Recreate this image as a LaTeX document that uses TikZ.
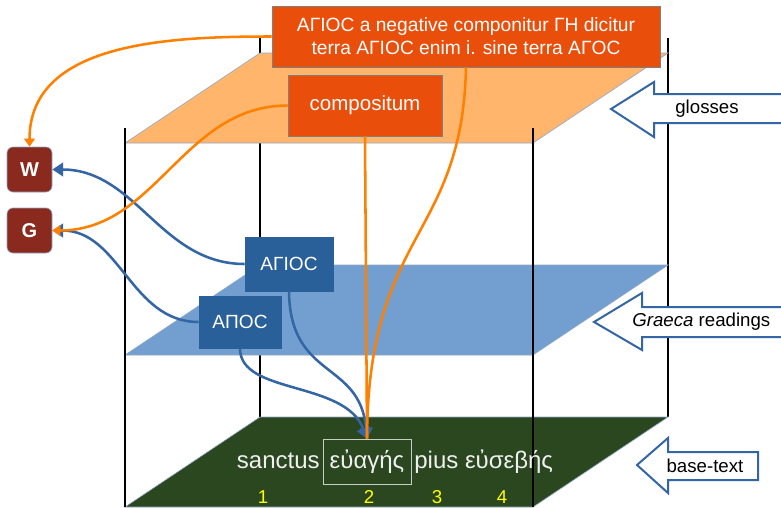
\documentclass[tikz,border=0pt]{standalone}
\usepackage{fontspec}
\setmainfont{Liberation Sans}
\usetikzlibrary{arrows.meta}
\definecolor{planeorange}{HTML}{FFB66C}
\definecolor{planeblue}{HTML}{729FCF}
\definecolor{planegreen}{HTML}{2A4720}
\definecolor{planeedge}{HTML}{8FA8C8}
\definecolor{boxorange}{HTML}{EA4E0B}
\definecolor{boxblue}{HTML}{2A6099}
\definecolor{boxred}{HTML}{8A2A1E}
\definecolor{lineorange}{HTML}{FF8000}
\definecolor{lineblue}{HTML}{3465A4}
\definecolor{numyellow}{HTML}{FFFF00}
\definecolor{basetxt}{HTML}{F0F0F0}
\begin{document}
\begin{tikzpicture}[x=0.75pt,y=-0.75pt,
  oline/.style={draw=lineorange, line width=1.9pt},
  bline/.style={draw=lineblue, line width=1.9pt},
  otip/.style={-{Triangle[length=6pt,width=8pt]}},
  btip/.style={-{Triangle[length=8pt,width=10pt]}},
  pillar/.style={draw=black, line width=1.9pt},
  plane/.style={draw=planeedge, line width=0.5pt},
  boxo/.style={fill=boxorange, draw=gray, line width=0.6pt, text=white, inner sep=0pt, align=center},
  boxb/.style={fill=boxblue, draw=boxblue, line width=0.6pt, text=white, inner sep=0pt, font=\fontsize{14.3}{16}\selectfont},
  boxr/.style={fill=boxred, draw=planeedge, line width=0.5pt, rounded corners=4.5pt, text=white, inner sep=0pt, minimum width=33.75pt, minimum height=33.75pt, font=\fontsize{15}{17}\selectfont\bfseries},
  blockarrow/.style={fill=white, draw=lineblue, line width=1.5pt, line join=miter},
  lbl/.style={text=black, inner sep=0pt, font=\fontsize{14}{16}\selectfont},
  basew/.style={text=basetxt, inner sep=0pt, font=\fontsize{18}{20}\selectfont},
  num/.style={text=numyellow, inner sep=0pt, font=\fontsize{14}{16}\selectfont}
]
\useasboundingbox (0,0) rectangle (781,507);
\fill[white] (0,0) rectangle (781,507);

% back pillars
\draw[pillar] (260,38) -- (260,417);
\draw[pillar] (668,38) -- (668,417);

% planes
\filldraw[plane, fill=planeorange] (260,53) -- (668,53) -- (533,143) -- (125,143) -- cycle;
\filldraw[plane, fill=planeblue] (260,265) -- (668,265) -- (533,355) -- (125,355) -- cycle;
\filldraw[plane, fill=planegreen] (260,417) -- (668,417) -- (533,507) -- (125,507) -- cycle;

% front pillars
\draw[pillar] (125,128) -- (125,507);
\draw[pillar] (533,128) -- (533,507);

% block arrows
\filldraw[blockarrow] (611,109) -- (654,82) -- (654,94) -- (790,94) -- (790,123) -- (654,123) -- (654,137) -- cycle;
\filldraw[blockarrow] (594,322) -- (642,293) -- (642,307) -- (790,307) -- (790,337) -- (642,337) -- (642,350) -- cycle;
\filldraw[blockarrow] (637,465) -- (668,438) -- (668,452) -- (758,452) -- (758,480) -- (668,480) -- (668,493) -- cycle;
\node[lbl] (lglosses) at (707,109) {glosses};
\node[lbl, anchor=west] (lgraeca) at (632,322) {\itshape Graeca\upshape{} readings};
\node[lbl] (lbase) at (705,466) {base-text};

% boxes
\node[boxo, minimum width=291pt, minimum height=45.75pt, font=\fontsize{14.4}{17.25}\selectfont] (top) at (466,36.5)
  {ΑΓΙΟC a negative componitur ΓΗ dicitur\\terra ΑΓΙΟC enim i. sine terra ΑΓΟC};
\node[boxo, minimum width=115.5pt, minimum height=45.75pt, font=\fontsize{15.4}{18}\selectfont] (comp) at (365,105.5) {compositum};
\node[boxb, minimum width=66pt, minimum height=40.5pt] (AG) at (289,264) {ΑΓΙΟC};
\node[boxb, minimum width=61.5pt, minimum height=39pt] (AP) at (240,322) {ΑΠΟC};
\node[boxr] (W) at (29.5,169.5) {W};
\node[boxr] (G) at (29.5,230.5) {G};

% base text
\node[basew, draw=basetxt!80!planegreen, line width=0.6pt, minimum width=66pt, minimum height=33.75pt] (ev) at (367,461.5) {εὐαγής};
\node[basew, anchor=base east] (sa) at ([xshift=-2pt]ev.base west) {sanctus};
\node[basew, anchor=base west] (pi) at ([xshift=2pt]ev.base east) {pius εὐσεβής};
\node[num] (n1) at (263,497) {1};
\node[num] (n2) at (369,497) {2};
\node[num] (n3) at (437,497) {3};
\node[num] (n4) at (502,497) {4};

% blue connectors
\draw[bline, btip] (AG.west) to[out=180,in=0] (W.east);
\draw[bline, btip] (AP.west) to[out=180,in=0] (G.east);
\draw[bline, btip] (AG.south) .. controls (290,380) and (360,360) .. (ev.north);
\draw[bline, btip] (AP.south) .. controls (240,395) and (345,380) .. (ev.north);

% orange connectors
\draw[oline, otip] (top.west) to[out=180,in=90] (W.north);
\draw[oline, otip] (comp.west) to[out=180,in=0] (G.east);
\draw[oline] (comp.south) -- (ev.north);
\draw[oline] (top.south) .. controls (462,240) and (368,230) .. (ev.north);
\end{tikzpicture}
\end{document}
